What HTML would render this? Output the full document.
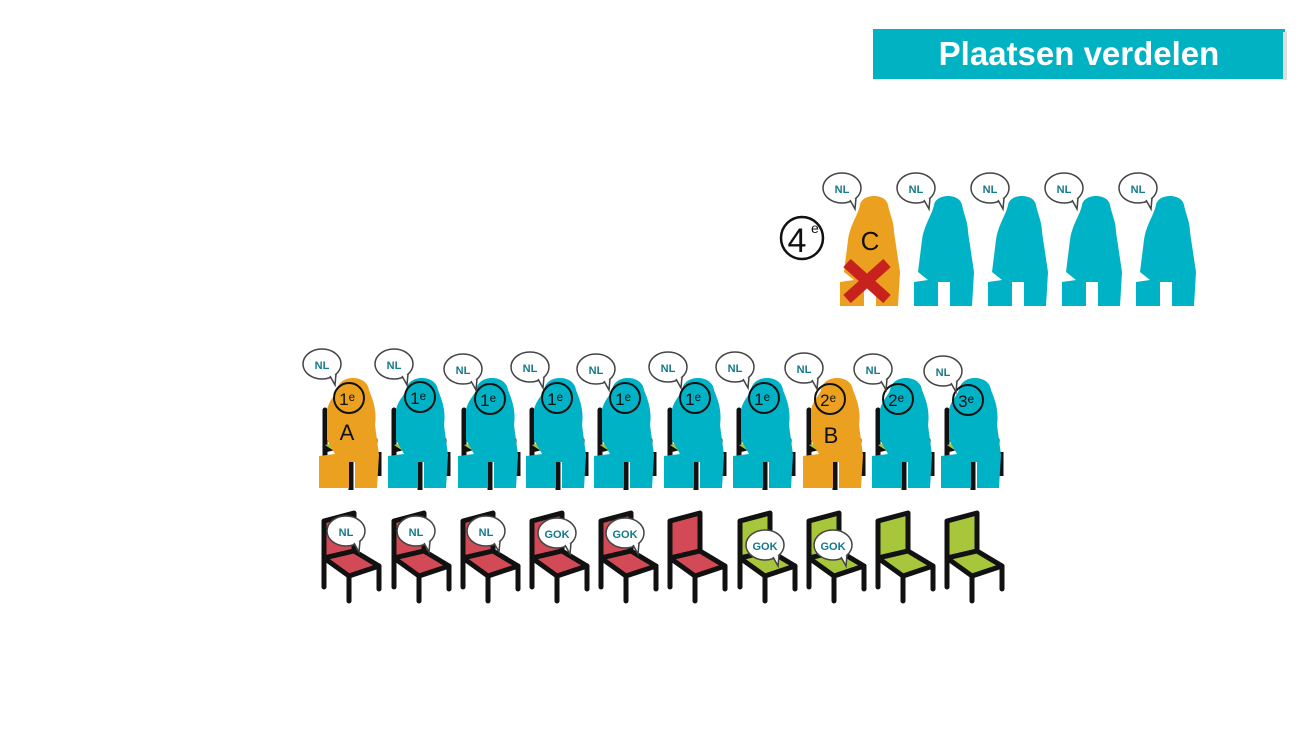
<!DOCTYPE html>
<html><head><meta charset="utf-8"><style>
html,body{margin:0;padding:0;background:#fff;width:1300px;height:729px;overflow:hidden}
svg{display:block}
.t{font-family:"Liberation Sans",sans-serif}
</style></head><body>
<svg width="1300" height="729" viewBox="0 0 1300 729" xmlns="http://www.w3.org/2000/svg">
<defs>
 <g id="chairR">
  <polygon points="-24,6 6,-2 6,36 -24,43" fill="#d24a55" stroke="#111" stroke-width="5" stroke-linejoin="round"/>
  <polygon points="-24,43 6,36 31,51 1,61" fill="#d24a55" stroke="#111" stroke-width="5" stroke-linejoin="round"/>
  <path d="M-24,43 V72 M1,61 V86 M31,51 V74" stroke="#111" stroke-width="5" stroke-linecap="round"/>
 </g>
 <g id="chairG">
  <polygon points="-24,6 6,-2 6,36 -24,43" fill="#a8c63c" stroke="#111" stroke-width="5" stroke-linejoin="round"/>
  <polygon points="-24,43 6,36 31,51 1,61" fill="#a8c63c" stroke="#111" stroke-width="5" stroke-linejoin="round"/>
  <path d="M-24,43 V72 M1,61 V86 M31,51 V74" stroke="#111" stroke-width="5" stroke-linecap="round"/>
 </g>
 <g id="seat">
  <path d="M-24,410 V470 M-24,450 L24,438 M26,440 V478" stroke="#111" stroke-width="5" stroke-linecap="round"/>
  <polygon points="-24,445 4,438 30,452 2,462" fill="#a8c63c"/>
  <path d="M2,462 V490 M30,452 V476" stroke="#111" stroke-width="5"/>
 </g>
 <path id="sitP" d="M-12,390 C-10,374 18,374 20,390 C24,400 28,410 26,425 L30,455 L28,488 L6,488 L6,462 L0,462 L0,488 L-30,488 L-30,456 L-14,454 L-22,440 L-22,410 C-20,400 -14,396 -12,390 Z"/>
 <path id="standP" d="M-10,205 C-8,193 16,193 18,205 C20,215 24,222 24,232 L30,272 L28,306 L6,306 L6,282 L-6,282 L-6,306 L-30,306 L-30,282 L-16,280 L-26,272 L-22,240 C-20,225 -12,215 -10,205 Z"/>
 <g id="bub">
  <ellipse cx="0" cy="0" rx="19" ry="15" fill="#fff" stroke="#444" stroke-width="1.5"/>
  <path d="M8,12 L13,21 L14,10" fill="#fff" stroke="#444" stroke-width="1.5"/>
 </g>
</defs>

<rect x="873" y="29" width="412" height="50" fill="#00b2c2"/>
<rect x="1283" y="32" width="4" height="48" fill="#ddd"/>
<text x="1079" y="65" text-anchor="middle" class="t" font-size="33" font-weight="bold" fill="#fff">Plaatsen verdelen</text>

<!-- standing row -->
<circle cx="802" cy="238" r="21" fill="#fff" stroke="#111" stroke-width="2.5"/>
<text x="797" y="252" text-anchor="middle" class="t" font-size="34" fill="#111">4</text>
<text x="811" y="233" class="t" font-size="14" fill="#111">e</text>
<g fill="#eba020"><use href="#standP" transform="translate(870,0)"/></g>
<text x="870" y="250" text-anchor="middle" class="t" font-size="26" fill="#111">C</text>
<path d="M847,263 L887,299 M887,263 L847,299" stroke="#c8221e" stroke-width="11"/>
<g fill="#00b2c6">
 <use href="#standP" transform="translate(944,0)"/>
 <use href="#standP" transform="translate(1018,0)"/>
 <use href="#standP" transform="translate(1092,0)"/>
 <use href="#standP" transform="translate(1166,0)"/>
</g>
<g>
 <use href="#bub" transform="translate(842,188)"/><text x="842" y="193" text-anchor="middle" class="t" font-size="11" font-weight="bold" fill="#127a88">NL</text>
 <use href="#bub" transform="translate(916,188)"/><text x="916" y="193" text-anchor="middle" class="t" font-size="11" font-weight="bold" fill="#127a88">NL</text>
 <use href="#bub" transform="translate(990,188)"/><text x="990" y="193" text-anchor="middle" class="t" font-size="11" font-weight="bold" fill="#127a88">NL</text>
 <use href="#bub" transform="translate(1064,188)"/><text x="1064" y="193" text-anchor="middle" class="t" font-size="11" font-weight="bold" fill="#127a88">NL</text>
 <use href="#bub" transform="translate(1138,188)"/><text x="1138" y="193" text-anchor="middle" class="t" font-size="11" font-weight="bold" fill="#127a88">NL</text>
</g>

<!-- seated row -->
<g>
 <g transform="translate(349,0)"><use href="#seat"/><use href="#sitP" fill="#eba020"/></g>
 <g transform="translate(418,0)"><use href="#seat"/><use href="#sitP" fill="#00b2c6"/></g>
 <g transform="translate(488,0)"><use href="#seat"/><use href="#sitP" fill="#00b2c6"/></g>
 <g transform="translate(556,0)"><use href="#seat"/><use href="#sitP" fill="#00b2c6"/></g>
 <g transform="translate(624,0)"><use href="#seat"/><use href="#sitP" fill="#00b2c6"/></g>
 <g transform="translate(694,0)"><use href="#seat"/><use href="#sitP" fill="#00b2c6"/></g>
 <g transform="translate(763,0)"><use href="#seat"/><use href="#sitP" fill="#00b2c6"/></g>
 <g transform="translate(833,0)"><use href="#seat"/><use href="#sitP" fill="#eba020"/></g>
 <g transform="translate(902,0)"><use href="#seat"/><use href="#sitP" fill="#00b2c6"/></g>
 <g transform="translate(971,0)"><use href="#seat"/><use href="#sitP" fill="#00b2c6"/></g>
</g>
<g fill="none" stroke="#111" stroke-width="2">
 <circle cx="349" cy="398" r="15"/><circle cx="420" cy="397" r="15"/><circle cx="490" cy="399" r="15"/>
 <circle cx="557" cy="398" r="15"/><circle cx="625" cy="398" r="15"/><circle cx="695" cy="398" r="15"/>
 <circle cx="764" cy="398" r="15"/><circle cx="830" cy="399" r="15"/><circle cx="898" cy="399" r="15"/><circle cx="968" cy="400" r="15"/>
</g>
<g class="t" font-size="17" fill="#111" text-anchor="middle">
 <text x="347" y="405">1ᵉ</text><text x="418" y="404">1ᵉ</text><text x="488" y="406">1ᵉ</text>
 <text x="555" y="405">1ᵉ</text><text x="623" y="405">1ᵉ</text><text x="693" y="405">1ᵉ</text>
 <text x="762" y="405">1ᵉ</text><text x="828" y="406">2ᵉ</text><text x="896" y="406">2ᵉ</text><text x="966" y="407">3ᵉ</text>
</g>
<text x="347" y="440" text-anchor="middle" class="t" font-size="22" fill="#111">A</text>
<text x="831" y="443" text-anchor="middle" class="t" font-size="22" fill="#111">B</text>
<g class="t" font-size="11" font-weight="bold" fill="#127a88" text-anchor="middle">
 <use href="#bub" transform="translate(322,364)"/><text x="322" y="369">NL</text>
 <use href="#bub" transform="translate(394,364)"/><text x="394" y="369">NL</text>
 <use href="#bub" transform="translate(463,369)"/><text x="463" y="374">NL</text>
 <use href="#bub" transform="translate(530,367)"/><text x="530" y="372">NL</text>
 <use href="#bub" transform="translate(596,369)"/><text x="596" y="374">NL</text>
 <use href="#bub" transform="translate(668,367)"/><text x="668" y="372">NL</text>
 <use href="#bub" transform="translate(735,367)"/><text x="735" y="372">NL</text>
 <use href="#bub" transform="translate(804,368)"/><text x="804" y="373">NL</text>
 <use href="#bub" transform="translate(873,369)"/><text x="873" y="374">NL</text>
 <use href="#bub" transform="translate(943,371)"/><text x="943" y="376">NL</text>
</g>

<!-- bottom chairs -->
<g transform="translate(0,515)">
 <use href="#chairR" transform="translate(348,0)"/>
 <use href="#chairR" transform="translate(418,0)"/>
 <use href="#chairR" transform="translate(487,0)"/>
 <use href="#chairR" transform="translate(556,0)"/>
 <use href="#chairR" transform="translate(625,0)"/>
 <use href="#chairR" transform="translate(694,0)"/>
 <use href="#chairG" transform="translate(764,0)"/>
 <use href="#chairG" transform="translate(833,0)"/>
 <use href="#chairG" transform="translate(902,0)"/>
 <use href="#chairG" transform="translate(971,0)"/>
</g>
<g class="t" font-size="11" font-weight="bold" fill="#127a88" text-anchor="middle">
 <use href="#bub" transform="translate(346,531)"/><text x="346" y="536">NL</text>
 <use href="#bub" transform="translate(416,531)"/><text x="416" y="536">NL</text>
 <use href="#bub" transform="translate(486,531)"/><text x="486" y="536">NL</text>
 <use href="#bub" transform="translate(557,533)"/><text x="557" y="538">GOK</text>
 <use href="#bub" transform="translate(625,533)"/><text x="625" y="538">GOK</text>
 <use href="#bub" transform="translate(765,545)"/><text x="765" y="550">GOK</text>
 <use href="#bub" transform="translate(833,545)"/><text x="833" y="550">GOK</text>
</g>
</svg>
</body></html>
